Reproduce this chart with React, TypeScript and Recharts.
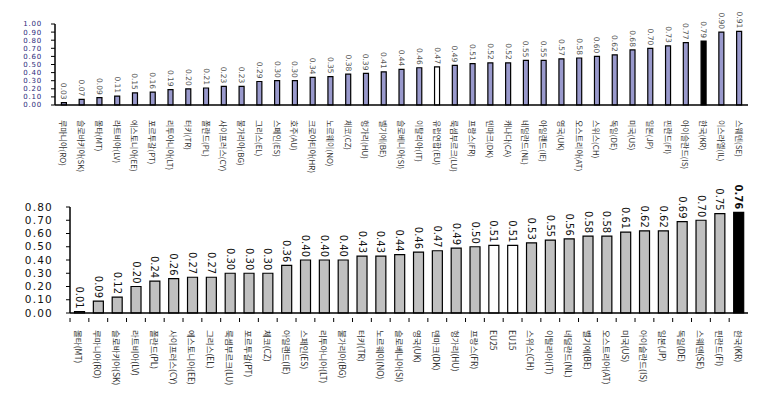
import React from 'react';
import { BarChart, Bar, XAxis, YAxis, Cell, LabelList } from 'recharts';

const topCategories = ['루마니아(RO)', '슬로바키아(SK)', '몰타(MT)', '라트비아(LV)', '에스토니아(EE)', '포르투갈(PT)', '리투아니아(LT)', '터키(TR)', '폴란드(PL)', '사이프러스(CY)', '불가리아(BG)', '그리스(EL)', '스페인(ES)', '호주(AU)', '크로아티아(HR)', '노르웨이(NO)', '체코(CZ)', '헝가리(HU)', '벨기에(BE)', '슬로베니아(SI)', '이탈리아(IT)', '유럽연합(EU)', '룩셈부르크(LU)', '프랑스(FR)', '덴마크(DK)', '캐나다(CA)', '네덜란드(NL)', '아일랜드(IE)', '영국(UK)', '오스트리아(AT)', '스위스(CH)', '독일(DE)', '미국(US)', '일본(JP)', '핀란드(FI)', '아이슬란드(IS)', '한국(KR)', '이스라엘(IL)', '스웨덴(SE)'];
const topValues = [0.03, 0.07, 0.09, 0.11, 0.15, 0.16, 0.19, 0.2, 0.21, 0.23, 0.23, 0.29, 0.3, 0.3, 0.34, 0.35, 0.38, 0.39, 0.41, 0.44, 0.46, 0.47, 0.49, 0.51, 0.52, 0.52, 0.55, 0.55, 0.57, 0.58, 0.6, 0.62, 0.68, 0.7, 0.73, 0.77, 0.79, 0.9, 0.91];
const topTicks = [0, 0.1, 0.2, 0.3, 0.4, 0.5, 0.6, 0.7, 0.8, 0.9, 1.0];
const topWhite = ['유럽연합(EU)'];
const topBlack = ['한국(KR)'];

const bottomCategories = ['몰타(MT)', '루마니아(RO)', '슬로바키아(SK)', '라트비아(LV)', '폴란드(PL)', '사이프러스(CY)', '에스토니아(EE)', '그리스(EL)', '룩셈부르크(LU)', '포르투갈(PT)', '체코(CZ)', '아일랜드(IE)', '스페인(ES)', '리투아니아(LT)', '불가리아(BG)', '터키(TR)', '노르웨이(NO)', '슬로베니아(SI)', '영국(UK)', '덴마크(DK)', '헝가리(HU)', '프랑스(FR)', 'EU25', 'EU15', '스위스(CH)', '이탈리아(IT)', '네덜란드(NL)', '벨기에(BE)', '오스트리아(AT)', '미국(US)', '아이슬란드(IS)', '일본(JP)', '독일(DE)', '스웨덴(SE)', '핀란드(FI)', '한국(KR)'];
const bottomValues = [0.01, 0.09, 0.12, 0.2, 0.24, 0.26, 0.27, 0.27, 0.3, 0.3, 0.3, 0.36, 0.4, 0.4, 0.4, 0.43, 0.43, 0.44, 0.46, 0.47, 0.49, 0.5, 0.51, 0.51, 0.53, 0.55, 0.56, 0.58, 0.58, 0.61, 0.62, 0.62, 0.69, 0.7, 0.75, 0.76];
const bottomTicks = [0, 0.1, 0.2, 0.3, 0.4, 0.5, 0.6, 0.7, 0.8];
const bottomWhite = ['EU25', 'EU15'];
const bottomBlack = ['한국(KR)'];

const topData = topCategories.map((name, i) => ({ name, value: topValues[i] }));
const bottomData = bottomCategories.map((name, i) => ({ name, value: bottomValues[i] }));

const KR_FONT = '"Noto Sans CJK KR", "DejaVu Sans", sans-serif';

// rotated category label, optional small tick at the band boundary
const makeCatTick = (fontSize: number, dy: number, boundaryTick: boolean, band: number) => (props: any) => {
  const { x, y, payload } = props;
  return (
    <g>
      {boundaryTick && (
        <line x1={x - band / 2} x2={x - band / 2} y1={y - 3} y2={y + 1} stroke="#000" strokeWidth={1} />
      )}
      <text
        x={x}
        y={y + dy}
        transform={`rotate(90, ${x}, ${y + dy})`}
        textAnchor="start"
        dominantBaseline="central"
        fontSize={fontSize}
        fontFamily={KR_FONT}
        fill="#333"
      >
        {payload.value}
      </text>
    </g>
  );
};

const makeValueLabel = (fontSize: number, color: string, boldName: string | null) => (props: any) => {
  const { x, y, width, value, index } = props;
  const cx = x + width / 2;
  const cy = y - 3;
  const bold = boldName !== null && index === bottomCategories.indexOf(boldName);
  return (
    <text
      x={cx}
      y={cy}
      transform={`rotate(90, ${cx}, ${cy})`}
      textAnchor="end"
      dominantBaseline="central"
      fontSize={fontSize}
      fontWeight={bold ? 'bold' : 'normal'}
      fontFamily='"DejaVu Sans", sans-serif'
      fill={color}
    >
      {Number(value).toFixed(2)}
    </text>
  );
};

const topFill = (name: string) => (topBlack.includes(name) ? '#000000' : topWhite.includes(name) ? '#ffffff' : '#9999cc');
const bottomFill = (name: string) => (bottomBlack.includes(name) ? '#000000' : bottomWhite.includes(name) ? '#ffffff' : '#c0c0c0');

export default function App() {
  return (
    <div style={{ position: 'absolute', left: 0, top: 0, width: 772, height: 402, background: '#fff' }}>
      <div style={{ position: 'absolute', left: 0, top: 0 }}>
        <BarChart width={772} height={190} data={topData} margin={{ top: 24, right: 24, bottom: 0, left: 0 }} barCategoryGap="36%">
          <XAxis
            dataKey="name"
            interval={0}
            height={85}
            axisLine={{ stroke: '#000', strokeWidth: 1.5 }}
            tickLine={false}
            tick={makeCatTick(8, 7, false, 17.8)}
          />
          <YAxis
            type="number"
            domain={[0, 1]}
            ticks={topTicks}
            interval={0}
            width={55}
            tickSize={4}
            tickMargin={9}
            axisLine={{ stroke: '#000', strokeWidth: 1.5 }}
            tickLine={{ stroke: '#000' }}
            tickFormatter={(v: number) => v.toFixed(2)}
            tick={{ fontSize: 7, fill: '#2a2a7a', fontFamily: '"DejaVu Sans", sans-serif', letterSpacing: 0.8 }}
          />
          <Bar dataKey="value" stroke="#000" strokeWidth={1.2} isAnimationActive={false}>
            {topData.map((d) => (
              <Cell key={d.name} fill={topFill(d.name)} />
            ))}
            <LabelList dataKey="value" content={makeValueLabel(7.5, '#555', null)} />
          </Bar>
        </BarChart>
      </div>
      <div style={{ position: 'absolute', left: 0, top: 185 }}>
        <BarChart width={772} height={217} data={bottomData} margin={{ top: 22, right: 24, bottom: 0, left: 0 }} barCategoryGap="24%">
          <XAxis
            dataKey="name"
            interval={0}
            height={89}
            axisLine={{ stroke: '#000', strokeWidth: 1.5 }}
            tickLine={false}
            tick={makeCatTick(8.5, 9, true, 18.8)}
          />
          <YAxis
            type="number"
            domain={[0, 0.8]}
            ticks={bottomTicks}
            interval={0}
            width={70}
            tickSize={4}
            tickMargin={13}
            axisLine={{ stroke: '#000', strokeWidth: 1.5 }}
            tickLine={{ stroke: '#000' }}
            tickFormatter={(v: number) => v.toFixed(2)}
            tick={{ fontSize: 10.5, fill: '#111', fontFamily: '"DejaVu Sans", sans-serif', letterSpacing: 1.2 }}
          />
          <Bar dataKey="value" stroke="#000" strokeWidth={1.2} isAnimationActive={false}>
            {bottomData.map((d) => (
              <Cell key={d.name} fill={bottomFill(d.name)} />
            ))}
            <LabelList dataKey="value" content={makeValueLabel(10, '#111', '한국(KR)')} />
          </Bar>
        </BarChart>
      </div>
    </div>
  );
}
